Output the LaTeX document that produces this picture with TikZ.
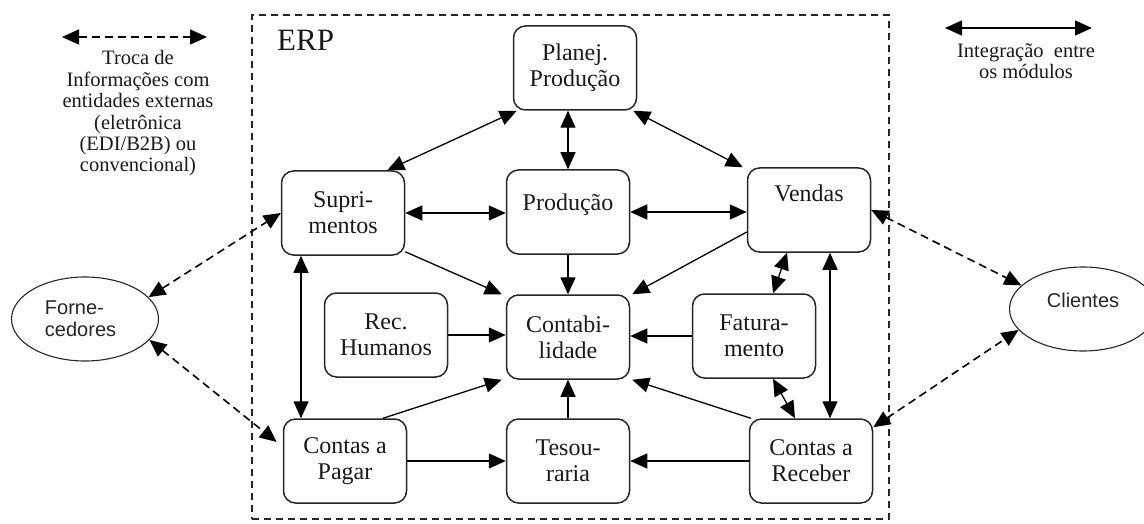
\documentclass[tikz,border=0pt]{standalone}
\usepackage{fontspec}
\setmainfont{Liberation Serif}
\newfontfamily\sansf{Liberation Sans}
\usetikzlibrary{arrows.meta,shapes.geometric,calc}
\begin{document}
\begin{tikzpicture}[x=1pt,y=-1pt,
  mod/.style={draw=black!85, line width=1.5pt, rounded corners=12pt, minimum width=123pt, minimum height=84pt, inner sep=0pt, align=center, font=\fontsize{24}{26}\selectfont, text=black!90},
  ext/.style={draw=black!85, line width=1.1pt, ellipse, minimum width=147pt, minimum height=84pt, inner sep=0pt, font=\sansf\fontsize{20}{22}\selectfont, text=black!85},
  tipb/.tip={Triangle[length=17pt,width=15pt]},
  lnk/.style={line width=1.3pt, tipb-tipb},
  one/.style={line width=1.3pt, -tipb},
  extlink/.style={line width=1.6pt, dash pattern=on 8pt off 5pt, tipb-tipb},
  legtext/.style={align=center, font=\fontsize{20.5}{21.4}\selectfont, text=black!90, inner sep=0pt},
  erpbox/.style={draw=black!85, line width=1.2pt, dash pattern=on 7pt off 5pt, minimum width=637pt, minimum height=504pt, inner sep=0pt}
]
\useasboundingbox (0,0) rectangle (1144,524);

% ERP container
\node[erpbox] (erp) at (570.5,267) {};
\node[anchor=west, font=\fontsize{31}{34}\selectfont, text=black!90, inner sep=0pt] (erplabel) at (277,40) {ERP};

% modules
\node[mod] (planej) at (575,68) {Planej.\\Produção};
\node[mod] (supr) at (343,213) {Supri-\\mentos};
\node[mod, text height=0pt, text depth=2pt] (prod) at (568,212) {Produção};
\node[mod, text height=0pt, text depth=18pt] (vendas) at (809,210) {Vendas};
\node[mod] (rech) at (386,335) {Rec.\\Humanos};
\node[mod] (contab) at (568,337) {Contabi-\\lidade};
\node[mod] (fatur) at (754,336) {Fatura-\\mento};
\node[mod] (cpagar) at (345,461) {Contas a\\Pagar};
\node[mod] (tesour) at (568,461) {Tesou-\\raria};
\node[mod] (creceb) at (811,461) {Contas a\\Receber};

% external entities
\node[ext, align=left, text width=80pt] (forn) at (85,319) {Forne-\\cedores};
\node[ext, text height=0pt, text depth=4pt] (clientes) at (1083,309) {Clientes};

% integration links
\draw[lnk] ([xshift=4pt]planej.south west) -- ([xshift=-18pt]supr.north east);
\draw[lnk] (prod.north) -- (prod.north |- planej.south);
\draw[lnk] ([xshift=-4pt]planej.south east) -- ([xshift=-4pt]vendas.north west);
\draw[lnk] (supr.east) -- (supr.east -| prod.west);
\draw[lnk] (prod.east) -- (prod.east -| vendas.west);
\draw[one] ([yshift=4pt]supr.south east) -- ([xshift=-4pt]contab.north west);
\draw[one] (prod.south) -- (contab.north);
\draw[one] ([yshift=-22pt]vendas.west) -- ([xshift=2pt]contab.north east);
\draw[one] (rech.east) -- (rech.east -| contab.west);
\draw[one] (fatur.west) -- (fatur.west -| contab.east);
\draw[lnk] ([xshift=19pt]fatur.north) -- ([xshift=-22pt]vendas.south);
\draw[lnk] ([xshift=21pt]vendas.south) -- ([xshift=21pt]vendas.south |- creceb.north);
\draw[lnk] ([xshift=19pt]fatur.south) -- ([xshift=-16pt]creceb.north);
\draw[one] ([xshift=2pt]creceb.north west) -- ([xshift=2pt]contab.south east);
\draw[one] (creceb.west) -- (creceb.west -| tesour.east);
\draw[one] (tesour.north) -- (contab.south);
\draw[one] (cpagar.east) -- (cpagar.east -| tesour.west);
\draw[one] ([xshift=38pt]cpagar.north) -- ([xshift=-4pt]contab.south west);
\draw[lnk] ([xshift=-42pt]supr.south) -- ([xshift=-42pt]supr.south |- cpagar.north);

% external exchanges
\draw[extlink] (forn.19) -- (supr.west);
\draw[extlink] (forn.342) -- ([xshift=-6pt,yshift=19pt]cpagar.west);
\draw[extlink] (vendas.east) -- (clientes.159);
\draw[extlink] ([yshift=-9pt]creceb.north east) -- (clientes.198);

% legends
\coordinate (leg1a) at (62,37);
\coordinate (leg1b) at (207,37);
\draw[extlink] (leg1a) -- (leg1b);
\node[legtext] (leg1) at (138,113.5) {Troca de\\Informações com\\entidades externas\\(eletrônica\\(EDI/B2B) ou\\convencional)};
\coordinate (leg2a) at (945,28);
\coordinate (leg2b) at (1092,28);
\draw[lnk] (leg2a) -- (leg2b);
\node[legtext] (leg2) at (1026,61) {Integração\ \ entre\\os módulos};
\end{tikzpicture}
\end{document}
